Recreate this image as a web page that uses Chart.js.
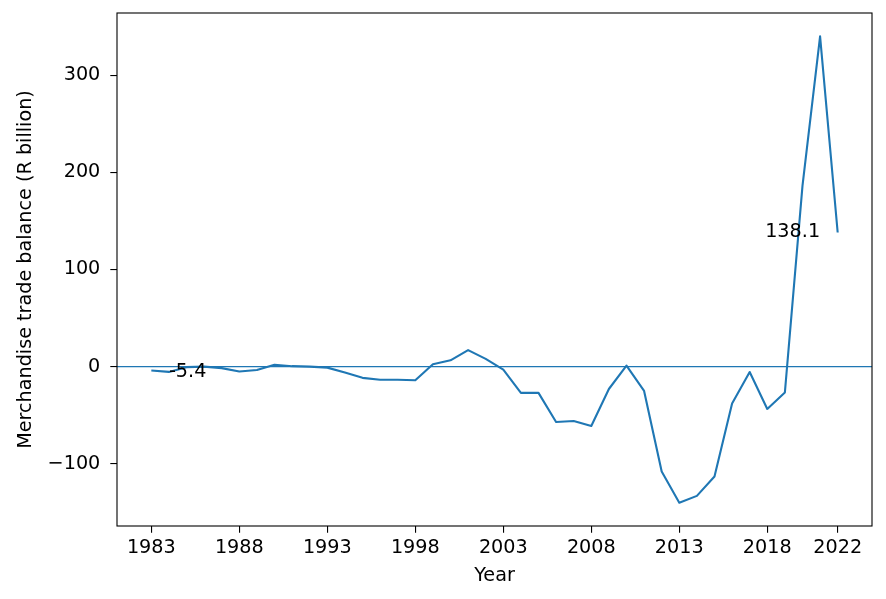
<!DOCTYPE html>
<html>
<head>
<meta charset="utf-8">
<script src="https://cdn.jsdelivr.net/npm/chart.js@4.4.1/dist/chart.umd.min.js"></script>
<style>
  html, body { margin: 0; padding: 0; background: #fff; }
  #wrap { width: 886px; height: 599px; position: relative; }
</style>
</head>
<body>
<div id="wrap"><canvas id="balanceChart"></canvas></div>
<script>
// Merchandise trade balance, R billion
const years = [
  1983, 1984, 1985, 1986, 1987, 1988, 1989, 1990, 1991, 1992,
  1993, 1994, 1995, 1996, 1997, 1998, 1999, 2000, 2001, 2002,
  2003, 2004, 2005, 2006, 2007, 2008, 2009, 2010, 2011, 2012,
  2013, 2014, 2015, 2016, 2017, 2018, 2019, 2020, 2021, 2022
];
const balance = [
  -4, -5.4, -0.5, 0, -1.5, -5, -3.5, 2, 0.5, 0,
  -1, -6, -11.5, -13.5, -13.5, -14, 2.5, 6.5, 17, 8,
  -3, -27, -27, -57, -56, -61, -23, 1, -25, -108,
  -140, -133, -113, -38, -5.5, -43.5, -26.5, 186, 340, 138.1
];
const xTicks = [1983, 1988, 1993, 1998, 2003, 2008, 2013, 2018, 2022];
const yTicks = [-100, 0, 100, 200, 300];
// labelled points: [year, value, text, align]
const notes = [
  [1984, -5.4, '-5.4', 'left'],
  [2021, 138.1, '138.1', 'right']
];

const FONT = 'DejaVu Sans';
const FS = 19.2;
const BLUE = '#1f77b4';

// zero line, frame and text labels
const extras = {
  id: 'extras',
  beforeDatasetsDraw(chart) {
    const { ctx, chartArea: a, scales: { y } } = chart;
    const y0 = y.getPixelForValue(0);
    ctx.save();
    ctx.strokeStyle = BLUE;
    ctx.lineWidth = 1.4;
    ctx.beginPath();
    ctx.moveTo(a.left, y0);
    ctx.lineTo(a.right, y0);
    ctx.stroke();
    ctx.restore();
  },
  afterDatasetsDraw(chart) {
    const { ctx, chartArea: a, scales: { x, y } } = chart;
    ctx.save();
    ctx.fillStyle = '#000';
    ctx.font = FS + 'px "' + FONT + '"';
    ctx.textBaseline = 'middle';
    notes.forEach(n => {
      ctx.textAlign = n[3];
      ctx.fillText(n[2], x.getPixelForValue(n[0]), y.getPixelForValue(n[1]));
    });
    ctx.strokeStyle = '#000';
    ctx.lineWidth = 1.1;
    ctx.strokeRect(a.left, a.top, a.right - a.left, a.bottom - a.top);
    ctx.restore();
  }
};

new Chart(document.getElementById('balanceChart'), {
  type: 'line',
  data: {
    datasets: [{
      data: years.map((yr, i) => ({ x: yr, y: balance[i] })),
      borderColor: BLUE,
      borderWidth: 2.1,
      borderJoinStyle: 'round',
      pointRadius: 0,
      tension: 0,
      fill: false
    }]
  },
  options: {
    responsive: true,
    maintainAspectRatio: false,
    animation: false,
    events: [],
    layout: { padding: { left: 0, top: 13, right: 14, bottom: 0 } },
    plugins: { legend: { display: false }, tooltip: { enabled: false } },
    scales: {
      x: {
        type: 'linear',
        min: 1981.05,
        max: 2023.95,
        afterBuildTicks: s => { s.ticks = xTicks.map(v => ({ value: v })); },
        afterFit: s => { s.height = 73; s.paddingLeft = 0; s.paddingRight = 0; },
        grid: { drawOnChartArea: false, drawTicks: true, tickLength: 6.7, color: '#000', lineWidth: 1.1 },
        border: { display: false },
        ticks: {
          autoSkip: false,
          maxRotation: 0,
          padding: 3.8,
          color: '#000',
          font: { family: FONT, size: FS },
          callback: v => String(v)
        },
        title: {
          display: true,
          text: 'Year',
          color: '#000',
          font: { family: FONT, size: FS },
          padding: { top: 0, bottom: 11.5 }
        }
      },
      y: {
        min: -164,
        max: 364,
        afterBuildTicks: s => { s.ticks = yTicks.map(v => ({ value: v })); },
        afterFit: s => { s.width = 117; s.paddingTop = 0; s.paddingBottom = 0; },
        grid: { drawOnChartArea: false, drawTicks: true, tickLength: 6.7, color: '#000', lineWidth: 1.1 },
        border: { display: false },
        ticks: {
          autoSkip: false,
          padding: 10,
          color: '#000',
          font: { family: FONT, size: FS },
          callback: v => (v < 0 ? '\u2212' + Math.abs(v) : String(v))
        },
        title: {
          display: true,
          text: 'Merchandise trade balance (R billion)',
          color: '#000',
          font: { family: FONT, size: FS },
          padding: { top: 14.5, bottom: 0 }
        }
      }
    }
  },
  plugins: [extras]
});
</script>
</body>
</html>
